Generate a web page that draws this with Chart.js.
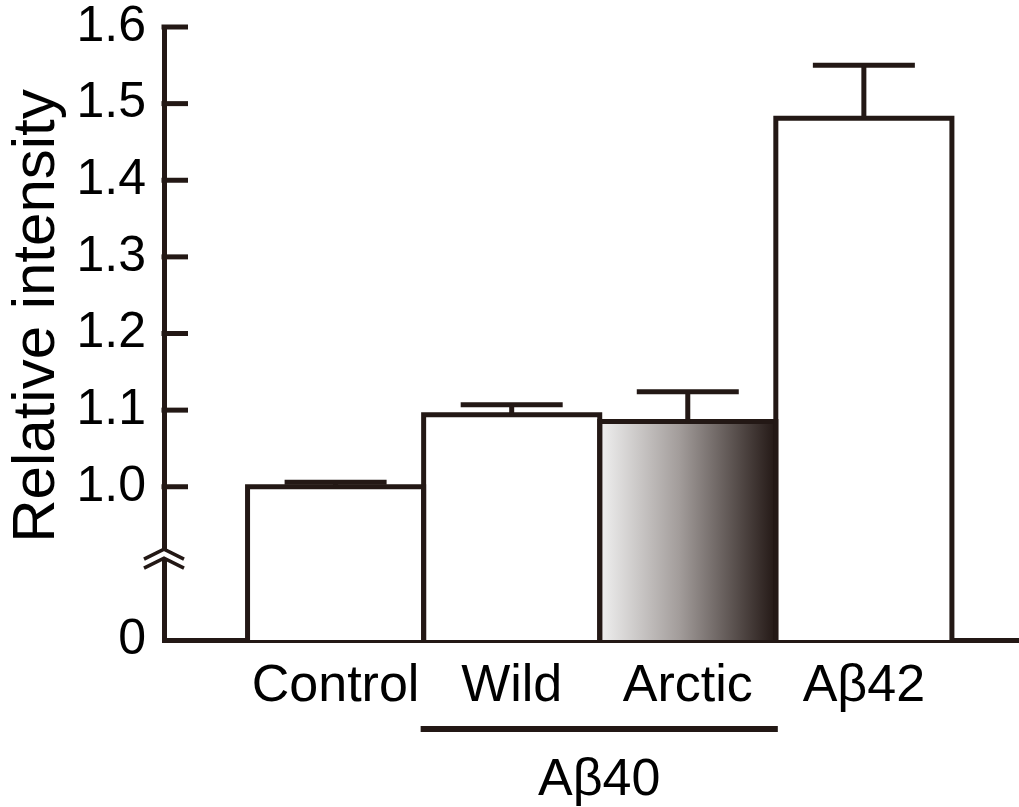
<!DOCTYPE html>
<html>
<head>
<meta charset="utf-8">
<script src="https://cdn.jsdelivr.net/npm/chart.js@4"></script>
<style>
    body { margin: 0; background: #fff; }
    #wrap { width: 1019px; height: 807px; }
</style>
</head>
<body>
<div id="wrap"><canvas id="graphique" width="1019" height="807"></canvas></div>
<script>
const categories = ['Control', 'Wild', 'Arctic', 'Aβ42'];
const means = [1.000, 1.094, 1.085, 1.481];
const errors = [0.006, 0.013, 0.039, 0.069];
const yTickValues = [0.8, 1.0, 1.1, 1.2, 1.3, 1.4, 1.5, 1.6];
const yTickLabels = ['0', '1.0', '1.1', '1.2', '1.3', '1.4', '1.5', '1.6'];
const groupLabel = 'Aβ40';          // bracket under Wild + Arctic
const groupFrom = 1, groupTo = 2;   // index range in categories
const yTitle = 'Relative intensity';

const INK = '#231815';
const FONT = "'Liberation Sans', Arial, Helvetica, sans-serif";
Chart.defaults.font.family = FONT;
Chart.defaults.color = '#000';

function arcticFill(context) {
    const chart = context.chart;
    const xs = chart.scales.x;
    if (!chart.chartArea || !xs) return '#999';
    const x0 = xs.getPixelForValue(2.5), x1 = xs.getPixelForValue(3.5);
    const g = chart.ctx.createLinearGradient(x0, 0, x1, 0);
    g.addColorStop(0, '#f0f0f0');
    g.addColorStop(0.45, '#a39d9b');
    g.addColorStop(1, INK);
    return g;
}

// outlines, error bars, inner ticks, axis break, group bracket, y title
const decor = {
    id: 'decor',
    afterDatasetsDraw(chart) {
        const ctx = chart.ctx;
        const xs = chart.scales.x, ys = chart.scales.y;
        const area = chart.chartArea;
        const bars = chart.getDatasetMeta(0).data;
        ctx.save();
        ctx.strokeStyle = INK;
        ctx.lineWidth = 5;
        ctx.lineJoin = 'miter';
        ctx.lineCap = 'butt';

        bars.forEach((b, i) => {
            const l = b.x - b.width / 2, r = b.x + b.width / 2;
            ctx.beginPath();
            ctx.moveTo(l, b.base);
            ctx.lineTo(l, b.y);
            ctx.lineTo(r, b.y);
            ctx.lineTo(r, b.base);
            ctx.stroke();
            // error bar (upper only)
            const yt = ys.getPixelForValue(means[i] + errors[i]);
            ctx.beginPath();
            ctx.moveTo(b.x, b.y);
            ctx.lineTo(b.x, yt);
            ctx.moveTo(b.x - 51, yt);
            ctx.lineTo(b.x + 51, yt);
            ctx.stroke();
        });

        // tick marks pointing inside
        yTickValues.forEach(v => {
            if (v <= ys.min) return;
            const y = ys.getPixelForValue(v);
            ctx.beginPath();
            ctx.moveTo(area.left - 2.5, y);
            ctx.lineTo(area.left + 24, y);
            ctx.stroke();
        });

        // axis break
        const yb = ys.getPixelForValue(0.912);
        const ax = area.left;
        ctx.fillStyle = '#fff';
        ctx.beginPath();
        ctx.moveTo(ax - 20, yb + 6);
        ctx.lineTo(ax, yb - 4);
        ctx.lineTo(ax + 20, yb + 6);
        ctx.lineTo(ax + 20, yb + 13);
        ctx.lineTo(ax, yb + 4);
        ctx.lineTo(ax - 20, yb + 13);
        ctx.closePath();
        ctx.fill();
        ctx.lineWidth = 3.5;
        [-5, 4].forEach(d => {
            ctx.beginPath();
            ctx.moveTo(ax - 20, yb + d + 10);
            ctx.lineTo(ax, yb + d);
            ctx.lineTo(ax + 20, yb + d + 10);
            ctx.stroke();
        });

        // group bracket
        const gx0 = xs.getPixelForValue(groupFrom + 0.5) - 3;
        const gx1 = xs.getPixelForValue(groupTo + 1.5) + 2;
        ctx.lineWidth = 6;
        ctx.beginPath();
        ctx.moveTo(gx0, 729);
        ctx.lineTo(gx1, 729);
        ctx.stroke();
        ctx.fillStyle = '#000';
        ctx.font = '52px ' + FONT;
        ctx.textAlign = 'center';
        ctx.textBaseline = 'middle';
        ctx.fillText(groupLabel, (gx0 + gx1) / 2, 781);

        // y title
        ctx.translate(37, 316);
        ctx.rotate(-Math.PI / 2);
        ctx.font = '60px ' + FONT;
        ctx.fillText(yTitle, 0, 0);
        ctx.restore();
    }
};

const ctx = document.getElementById('graphique').getContext('2d');
new Chart(ctx, {
    type: 'bar',
    data: {
        datasets: [{
            data: means.map((m, i) => ({ x: i + 1, y: m })),
            base: yTickValues[0],
            backgroundColor: c => (c.dataIndex === 2 ? arcticFill(c) : '#fff'),
            borderWidth: 0,
            inflateAmount: 0,
            barPercentage: 1,
            categoryPercentage: 1
        }]
    },
    options: {
        responsive: false,
        animation: false,
        layout: { padding: { top: 27, right: 0, left: 0, bottom: 0 } },
        plugins: { legend: { display: false }, tooltip: { enabled: false } },
        scales: {
            x: {
                type: 'linear',
                offset: false,
                min: 0.0255,
                max: 4.881,
                afterBuildTicks: s => { s.ticks = categories.map((c, i) => ({ value: i + 1 })); },
                afterFit: s => { s.height = 167; },
                ticks: {
                    autoSkip: false,
                    maxRotation: 0,
                    padding: 21,
                    font: { size: 52, lineHeight: 1 },
                    callback: (v, i) => categories[i]
                },
                grid: { display: false, drawTicks: false, offset: false },
                border: { display: true, width: 5, color: INK }
            },
            y: {
                min: 0.8,
                max: 1.6,
                afterBuildTicks: s => { s.ticks = yTickValues.map(v => ({ value: v })); },
                afterFit: s => { s.width = 164; },
                ticks: {
                    padding: 18,
                    // small line height keeps the label padding from pushing the plot top down
                    font: { size: 50, lineHeight: 0.3 },
                    callback: (v, i) => yTickLabels[i]
                },
                grid: { display: false, drawTicks: false },
                border: { display: true, width: 5, color: INK }
            }
        }
    },
    plugins: [decor]
});
</script>
</body>
</html>
